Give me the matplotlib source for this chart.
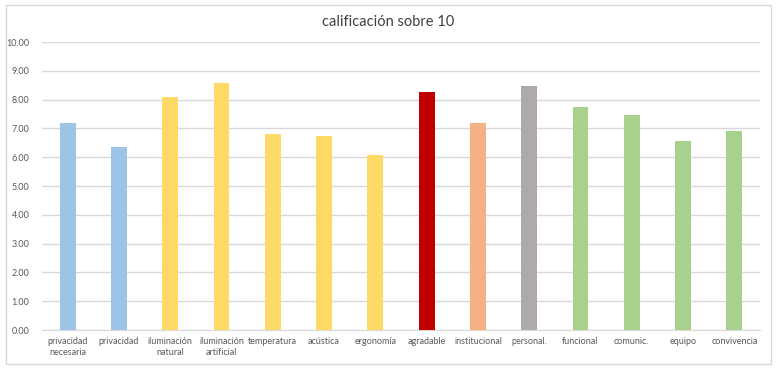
import matplotlib
matplotlib.use("Agg")
import matplotlib.pyplot as plt
from matplotlib.patches import FancyBboxPatch
import numpy as np

plt.rcParams['font.family'] = ['Lato', 'DejaVu Sans']

categorias = ['privacidad\nnecesaria', 'privacidad', 'iluminación\nnatural',
              'iluminación\nartificial', 'temperatura', 'acústica', 'ergonomía',
              'agradable', 'institucional', 'personal.', 'funcional', 'comunic.',
              'equipo', 'convivencia']
valores = [7.18, 6.36, 8.09, 8.58, 6.82, 6.74, 6.09,
           8.28, 7.18, 8.46, 7.73, 7.45, 6.55, 6.91]
colores = ['#9DC3E6', '#9DC3E6', '#FFD966', '#FFD966', '#FFD966', '#FFD966', '#FFD966',
           '#C00000', '#F4B183', '#AEAAAA', '#A9D18E', '#A9D18E', '#A9D18E', '#A9D18E']
ticks_y = np.arange(0, 11, 1)

fig = plt.figure(figsize=(7.76, 3.69), dpi=100)
fig.patches.append(FancyBboxPatch((6/776, 5/369), 765/776, 359/369,
                                  boxstyle='square,pad=0', transform=fig.transFigure,
                                  facecolor='none', edgecolor='#D9D9D9', linewidth=1))
ax = fig.add_axes([42/776, 39/369, 718/776, 288/369])

x = np.arange(len(categorias))
ax.bar(x, valores, width=0.31, color=colores, zorder=3)

ax.set_xlim(-0.5, len(categorias) - 0.5)
ax.set_ylim(0, 10)
ax.set_yticks(ticks_y)
ax.set_yticklabels([f'{v:.2f}' for v in ticks_y])
ax.set_xticks(x)
ax.set_xticklabels(categorias, linespacing=1.35)
ax.tick_params(axis='both', length=0, labelsize=6.5, labelcolor='#595959')
ax.tick_params(axis='y', pad=9)
ax.tick_params(axis='x', pad=5)
ax.grid(axis='y', color='#D9D9D9', linewidth=1, zorder=0)
for s in ['top', 'right', 'left']:
    ax.spines[s].set_visible(False)
ax.spines['bottom'].set_color('#D9D9D9')
ax.set_facecolor('none')

fig.text(0.5, 1 - 22/369, 'calificación sobre 10', ha='center', va='center',
         fontsize=10.5, color='#404040')

fig.savefig('out.png', dpi=100)
